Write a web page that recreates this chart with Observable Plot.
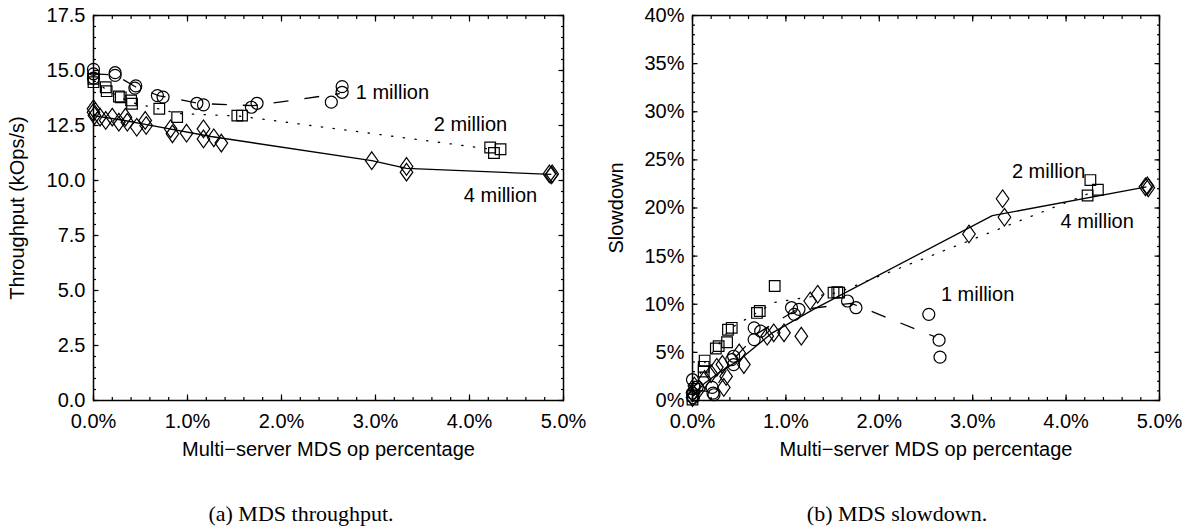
<!DOCTYPE html>
<html><head><meta charset="utf-8">
<script src="https://cdn.jsdelivr.net/npm/d3@7"></script>
<script src="https://cdn.jsdelivr.net/npm/@observablehq/plot@0.6"></script>
<style>
body{margin:0;background:#fff;}
#wrap{position:relative;width:1189px;height:529px;overflow:hidden;background:#fff;}
#a{position:absolute;left:0;top:0;}
#b{position:absolute;left:594px;top:0;}
.cap{position:absolute;top:501px;font-family:"Liberation Serif","Times New Roman",serif;font-size:22px;transform:translateX(-50%);white-space:nowrap;color:#000;}
</style></head>
<body><div id="wrap"><div id="a"></div><div id="b"></div>
<div class="cap" style="left:301px">(a) MDS throughput.</div>
<div class="cap" style="left:897px">(b) MDS slowdown.</div></div>
<script>
// ---------- (a) throughput, kOps/s, x = multi-server op % ----------
const tput1M = [[0,15.05],[0,14.85],[0,14.65],[0.23,14.9],[0.23,14.78],[0.45,14.3],[0.44,14.2],[0.68,13.86],[0.74,13.79],[1.1,13.51],[1.17,13.44],[1.68,13.33],[1.74,13.51],[2.53,13.56],[2.645,14.27],[2.645,14.01]];
const tput2M = [[0,14.62],[0,14.47],[0.13,14.24],[0.14,14.06],[0.27,13.82],[0.29,13.78],[0.4,13.64],[0.41,13.49],[0.7,13.26],[0.89,12.88],[1.53,12.95],[1.58,12.95],[4.22,11.5],[4.26,11.25],[4.33,11.42]];
const tput4M = [[0,13.26],[0,13.1],[0.01,12.95],[0.07,12.88],[0.13,12.73],[0.2,12.88],[0.27,12.65],[0.34,12.88],[0.36,12.65],[0.46,12.42],[0.55,12.73],[0.56,12.5],[0.82,12.35],[0.84,12.12],[0.99,12.15],[1.17,12.35],[1.17,11.89],[1.28,11.94],[1.36,11.7],[2.96,10.9],[3.33,10.64],[3.33,10.38],[4.85,10.3],[4.87,10.25],[4.88,10.3]];
const tput1MLine = [[0,14.85],[0.23,14.8],[0.45,14.25],[0.7,13.85],[1.13,13.5],[1.7,13.4],[2.62,13.95]];
const tput2MLine = [[0,14.55],[0.13,14.15],[0.27,13.8],[0.4,13.55],[0.7,13.25],[0.89,13.05],[1.55,12.93],[4.27,11.4]];
const tput4MLine = [[0,12.95],[0.3,12.75],[0.55,12.55],[1.25,12.0],[2.96,10.9],[3.33,10.55],[4.87,10.28]];
const tputLabels = [[2.79,14.0,"1 million"],[3.62,12.55,"2 million"],[3.94,9.32,"4 million"]];

// ---------- (b) slowdown, %, x = multi-server op % ----------
const slow1M = [[0,2.16],[0,0.76],[0.01,0.3],[0.05,1.4],[0.21,1.36],[0.22,0.76],[0.23,0.6],[0.42,4.25],[0.44,4.6],[0.44,3.73],[0.66,7.55],[0.66,6.33],[0.73,7.2],[1.06,9.64],[1.09,8.95],[1.14,9.47],[1.66,10.34],[1.75,9.64],[2.53,8.95],[2.64,6.27],[2.65,4.5]];
const slow2M = [[0,0.1],[0,0.5],[0.02,1.2],[0.12,3.0],[0.12,3.5],[0.13,4.15],[0.25,5.4],[0.28,5.65],[0.37,6.05],[0.38,7.35],[0.42,7.55],[0.69,9.1],[0.72,9.3],[0.88,11.9],[1.51,11.2],[1.55,11.25],[1.57,11.2],[4.23,21.3],[4.26,22.9],[4.34,21.9]];
const slow4M = [[0,0.3],[0,0.8],[0.02,1.5],[0.07,1.2],[0.13,2.2],[0.2,2.8],[0.26,3.45],[0.32,3.75],[0.335,1.36],[0.36,2.5],[0.5,4.94],[0.55,3.73],[0.8,6.68],[0.87,7.03],[0.98,7.03],[1.165,6.68],[1.26,10.34],[1.34,11.04],[2.96,17.3],[3.32,20.96],[3.34,19.04],[4.85,22.2],[4.87,22.3],[4.88,22.1]];
const slow1MLine = [[0,1.1],[0.22,0.9],[0.43,4.2],[0.7,7.0],[1.1,9.35],[1.7,10.1],[2.6,6.6]];
const slow2MLine = [[0,0.5],[0.12,3.8],[0.27,5.7],[0.4,7.45],[0.7,9.2],[0.88,10.2],[1.55,11.2],[4.27,21.6]];
const slow4MLine = [[0,0.4],[0.13,1.8],[0.3,3.0],[0.5,4.2],[0.85,7.0],[1.3,9.5],[3.21,19.2],[4.86,22.2]];
const slowLabels = [[3.42,23.8,"2 million"],[3.94,18.6,"4 million"],[2.66,10.97,"1 million"]];

// ---------- axis ticks ----------
const xMajor = [0,1,2,3,4,5];
const tputMajor = [0,2.5,5,7.5,10,12.5,15,17.5];
const slowMajor = [0,5,10,15,20,25,30,35,40];

const diamondSym = {draw(ctx, size){const r=Math.sqrt(size/Math.PI);const h=r*1.47,w=r*1.05;ctx.moveTo(0,-h);ctx.lineTo(w,0);ctx.lineTo(0,h);ctx.lineTo(-w,0);ctx.closePath();}};

const F = "'Liberation Sans', Arial, Helvetica, sans-serif";

function chart({width, marginLeft, marginRight, yDomain, yMajor, yMinorStep, yFmt, ylabel, pts, lines, labels}) {
  const H = 470;
  const xMinor = d3.range(0, 5.0001, 0.2);
  const yMinor = d3.range(yDomain[0], yDomain[1] + 1e-6, yMinorStep);
  const tk = (s) => ({stroke: "#000", strokeWidth: 1.2, tickFormat: () => "", label: null, tickSize: s});
  const marks = [
    Plot.axisX(xMinor, {anchor: "bottom", ...tk(-3)}),
    Plot.axisX(xMinor, {anchor: "top", ...tk(-3)}),
    Plot.axisX(xMajor, {anchor: "bottom", ...tk(-5.5)}),
    Plot.axisX(xMajor, {anchor: "top", ...tk(-5.5)}),
    Plot.axisY(yMinor, {anchor: "left", ...tk(-3)}),
    Plot.axisY(yMinor, {anchor: "right", ...tk(-3)}),
    Plot.axisY(yMajor, {anchor: "left", ...tk(-5.5)}),
    Plot.axisY(yMajor, {anchor: "right", ...tk(-5.5)}),
    Plot.axisX(xMajor, {anchor: "bottom", tickSize: 0, tickPadding: 13, tickFormat: d => d.toFixed(1) + "%", label: "Multi\u2212server MDS op percentage", labelAnchor: "center", labelOffset: 55, labelArrow: "none", fill: "#000"}),
    Plot.axisY(yMajor, {anchor: "left", tickSize: 0, tickPadding: 8, tickFormat: yFmt, label: ylabel, labelAnchor: "center", labelOffset: 84, labelArrow: "none", fill: "#000"}),
    Plot.frame({stroke: "#000", strokeWidth: 1.5}),
  ];
  const dash = ["15,16", "1.3,10.5", null];
  lines.forEach((L, i) => marks.push(Plot.line(L, {x: d => d[0], y: d => d[1], stroke: "#000", strokeWidth: 1.3, strokeDasharray: dash[i], strokeLinecap: i === 1 ? "round" : "butt"})));
  const syms = ["circle", "square", diamondSym];
  pts.forEach((P, i) => marks.push(Plot.dot(P, {x: d => d[0], y: d => d[1], r: 6, symbol: syms[i], stroke: "#000", strokeWidth: 1.2, fill: "none"})));
  marks.push(Plot.text(labels, {x: d => d[0], y: d => d[1], text: d => d[2], textAnchor: "start", fill: "#000", fontSize: 20}));
  return Plot.plot({
    width, height: H, marginLeft, marginRight, marginTop: 15, marginBottom: H - 400,
    x: {domain: [0, 5]},
    y: {domain: yDomain},
    style: {fontFamily: F, fontSize: "20px", color: "#000", background: "#fff", overflow: "visible"},
    marks
  });
}

document.getElementById("a").append(chart({
  width: 594, marginLeft: 93, marginRight: 31,
  yDomain: [0, 17.5], yMajor: tputMajor, yMinorStep: 0.5, yFmt: d => d.toFixed(1),
  ylabel: "Throughput (kOps/s)",
  pts: [tput1M, tput2M, tput4M], lines: [tput1MLine, tput2MLine, tput4MLine], labels: tputLabels
}));
document.getElementById("b").append(chart({
  width: 595, marginLeft: 98, marginRight: 30,
  yDomain: [0, 40], yMajor: slowMajor, yMinorStep: 1, yFmt: d => d + "%",
  ylabel: "Slowdown",
  pts: [slow1M, slow2M, slow4M], lines: [slow1MLine, slow2MLine, slow4MLine], labels: slowLabels
}));
</script>
</body></html>
